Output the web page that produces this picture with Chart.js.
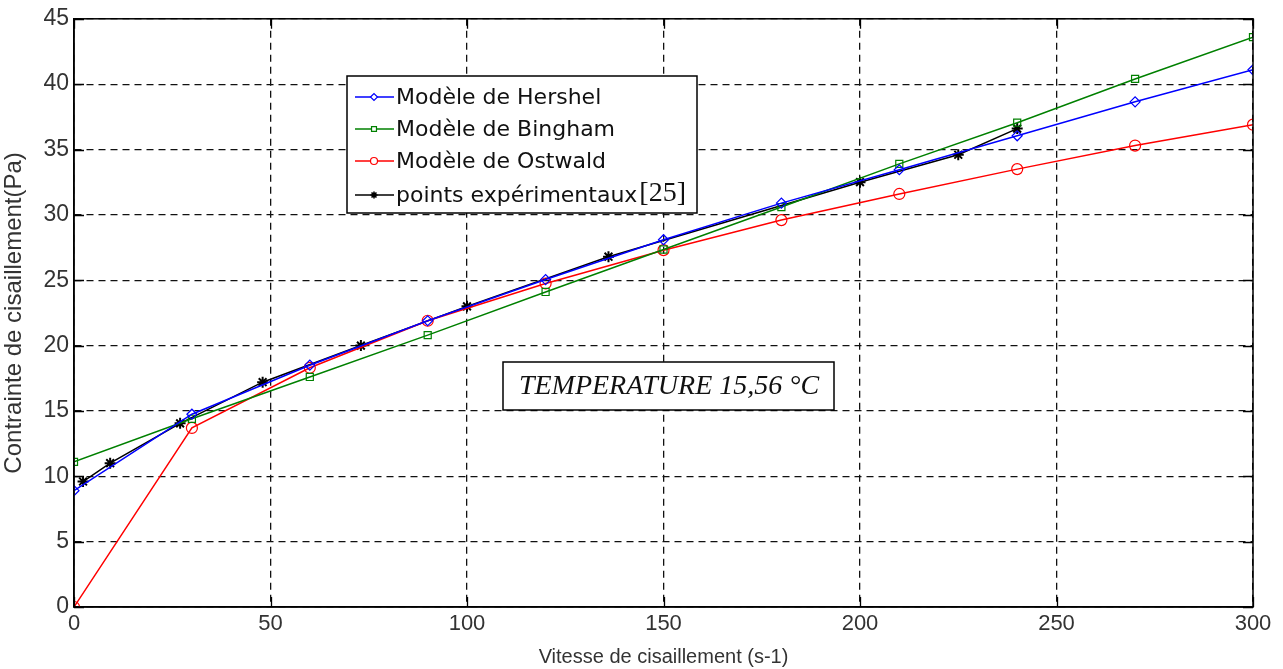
<!DOCTYPE html>
<html>
<head>
<meta charset="utf-8">
<script src="https://cdn.jsdelivr.net/npm/chart.js@4"></script>
<style>
  html, body { margin: 0; padding: 0; background: #fff; }
  #wrap { width: 1283px; height: 669px; }
</style>
</head>
<body>
<div id="wrap"><canvas id="myChart"></canvas></div>
<script>
// model abscissae (shear rate, s-1)
const modelX = [0, 30, 60, 90, 120, 150, 180, 210, 240, 270, 300];
const hershel = [8.9, 14.75, 18.5, 21.9, 25.05, 28.1, 30.9, 33.45, 36.05, 38.65, 41.1];
const bingham = [11.1, 14.4, 17.6, 20.8, 24.1, 27.35, 30.6, 33.9, 37.05, 40.4, 43.6];
const ostwald = [0, 13.7, 18.3, 21.9, 24.75, 27.3, 29.6, 31.6, 33.5, 35.3, 36.9];
// experimental points [25]
const expX = [2.3, 9.2, 27, 48, 73, 100, 136, 200, 225, 240];
const expY = [9.6, 11.0, 14.05, 17.2, 20.0, 23.0, 26.8, 32.5, 34.6, 36.6];

const xTicks = [0, 50, 100, 150, 200, 250, 300];
const yTicks = [0, 5, 10, 15, 20, 25, 30, 35, 40, 45];

const labels = ['Modèle de Hershel', 'Modèle de Bingham', 'Modèle de Ostwald', 'points expérimentaux'];

const pts = (xs, ys) => xs.map((x, i) => ({x: x, y: ys[i]}));

const ctx = document.getElementById('myChart');

// frame, inner ticks, legend box and temperature box
const extras = {
  id: 'extras',
  afterDraw(chart) {
    const c = chart.ctx;
    const a = chart.chartArea;
    const xs = chart.scales.x, ys = chart.scales.y;
    c.save();
    c.strokeStyle = '#000';
    c.lineWidth = 1.5;
    c.setLineDash([]);
    c.strokeRect(a.left, a.top, a.right - a.left, a.bottom - a.top);
    c.lineWidth = 1.3;
    c.beginPath();
    xTicks.forEach(v => {
      const px = Math.round(xs.getPixelForValue(v)) + 0.5;
      c.moveTo(px, a.bottom); c.lineTo(px, a.bottom - 10);
      c.moveTo(px, a.top); c.lineTo(px, a.top + 10);
    });
    yTicks.forEach(v => {
      const py = Math.round(ys.getPixelForValue(v)) + 0.5;
      c.moveTo(a.left, py); c.lineTo(a.left + 10, py);
      c.moveTo(a.right, py); c.lineTo(a.right - 10, py);
    });
    c.stroke();

    // legend
    const lx = 347, ly = 76, lw = 350, lh = 137;
    c.fillStyle = '#fff';
    c.fillRect(lx, ly, lw, lh);
    c.lineWidth = 1.5;
    c.strokeRect(lx, ly, lw, lh);
    const rowY = [97, 129, 161, 195];
    chart.data.datasets.forEach((ds, i) => {
      const y = rowY[i];
      c.strokeStyle = ds.borderColor;
      c.lineWidth = 1.3;
      c.beginPath();
      c.moveTo(355, y); c.lineTo(394, y);
      c.stroke();
      c.fillStyle = '#fff';
      c.lineWidth = ds.pointStyle === 'star' ? 1.6 : 1.2;
      Chart.helpers.drawPoint(c, {pointStyle: ds.pointStyle, radius: 3.5, borderWidth: c.lineWidth}, 374, y);
      c.fillStyle = '#111';
      c.font = '22px "DejaVu Sans", sans-serif';
      c.textBaseline = 'middle';
      c.fillText(ds.label, 396, y + 1);
    });
    const w = c.measureText(labels[3]).width;
    c.font = '28px "Liberation Serif", "Times New Roman", serif';
    c.fillText('[25]', 396 + w + 2, 194);

    // temperature label
    c.fillStyle = '#fff';
    c.fillRect(503, 362, 331, 48);
    c.strokeStyle = '#000';
    c.lineWidth = 1.5;
    c.strokeRect(503, 362, 331, 48);
    c.fillStyle = '#111';
    c.font = 'italic 28px "Liberation Serif", "Times New Roman", serif';
    c.textAlign = 'center';
    c.fillText('TEMPERATURE 15,56 °C', 669, 387);
    c.restore();
  }
};

const mk = (label, xs, ys, color, style, r, bw) => ({
  label: label,
  data: pts(xs, ys),
  borderColor: color,
  backgroundColor: 'rgba(0,0,0,0)',
  borderWidth: 1.5,
  pointStyle: style,
  pointRadius: r,
  pointBorderColor: color,
  pointBorderWidth: bw,
  tension: 0,
  fill: false
});

const data = {
  datasets: [
    mk(labels[0], modelX, hershel, '#0000ff', 'rectRot', 5, 1.2),
    mk(labels[1], modelX, bingham, '#008000', 'rect', 5, 1.2),
    mk(labels[2], modelX, ostwald, '#ff0000', 'circle', 5.5, 1.2),
    mk(labels[3], expX, expY, '#000000', 'star', 5.5, 2)
  ]
};

const CONFIG = {
  type: 'line',
  data: data,
  options: {
    responsive: true,
    maintainAspectRatio: false,
    animation: false,
    layout: { padding: { top: 18, right: 30, left: 0, bottom: 0 } },
    plugins: { legend: { display: false }, tooltip: { enabled: false } },
    scales: {
      x: {
        type: 'linear',
        min: 0,
        max: 300,
        afterFit: s => { s.height = 62; },
        afterBuildTicks: s => { s.ticks = xTicks.map(v => ({value: v})); },
        border: { display: true, color: '#000', width: 1.5, dash: [7, 5] },
        grid: { color: '#111', lineWidth: 1.3, drawTicks: false },
        ticks: {
          color: '#333',
          padding: 4,
          font: { family: '"Liberation Sans", Arial, sans-serif', size: 22 }
        },
        title: {
          display: true,
          text: 'Vitesse de cisaillement (s-1)',
          color: '#333',
          padding: { top: 0, bottom: 0 },
          font: { family: '"Liberation Sans", Arial, sans-serif', size: 20 }
        }
      },
      y: {
        min: 0,
        max: 45,
        afterFit: s => { s.width = 74; },
        afterBuildTicks: s => { s.ticks = yTicks.map(v => ({value: v})); },
        border: { display: true, color: '#000', width: 1.5, dash: [7, 5] },
        grid: { color: '#111', lineWidth: 1.3, drawTicks: false },
        ticks: {
          color: '#333',
          padding: 5,
          font: { family: '"Liberation Sans", Arial, sans-serif', size: 23 }
        },
        title: {
          display: true,
          text: 'Contrainte de cisaillement(Pa)',
          color: '#333',
          padding: { top: 0, bottom: 2 },
          font: { family: '"Liberation Sans", Arial, sans-serif', size: 24 }
        }
      }
    }
  },
  plugins: [extras]
};

const chart = new Chart(ctx, CONFIG);
</script>
</body>
</html>
